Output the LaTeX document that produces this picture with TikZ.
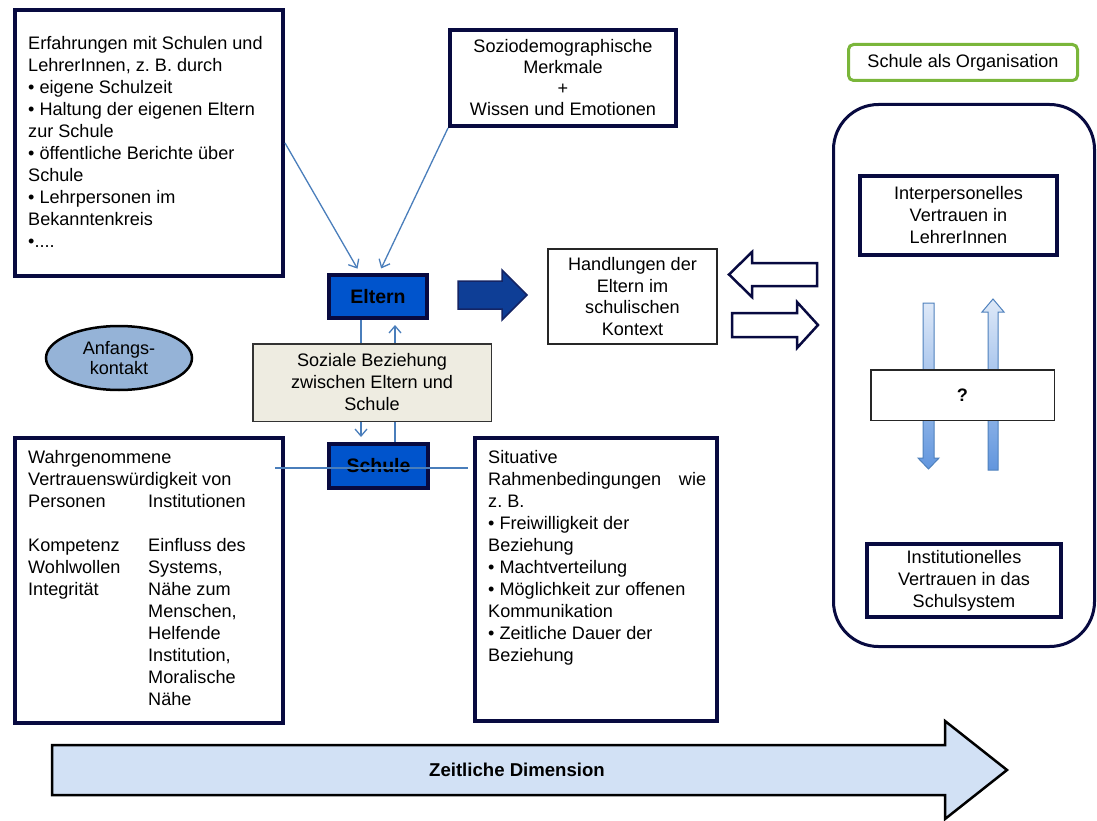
\documentclass[tikz,border=0pt]{standalone}
\usepackage{fontspec}
\setmainfont{Liberation Sans}
\frenchspacing
\usetikzlibrary{arrows.meta,shapes.geometric,calc}
\definecolor{navy}{RGB}{8,10,64}
\definecolor{connblue}{RGB}{74,126,187}
\definecolor{elternblue}{RGB}{0,84,204}
\definecolor{arrowblue}{RGB}{14,62,150}
\definecolor{arrowborder}{RGB}{20,36,100}
\definecolor{beige}{RGB}{238,236,225}
\definecolor{ellblue}{RGB}{149,179,215}
\definecolor{orggreen}{RGB}{122,182,58}
\definecolor{timeblue}{RGB}{210,225,245}
\definecolor{vtop}{RGB}{222,233,248}
\definecolor{vbot}{RGB}{98,150,222}
\definecolor{vborder}{RGB}{79,129,189}
\begin{document}
\begin{tikzpicture}[x=1pt,y=-1pt,
  txt/.style={font=\fontsize{18.1}{22}\selectfont\frenchspacing},
  darkbox/.style={draw=navy, line width=4pt, fill=white, inner sep=0pt, align=center, txt},
  thinbox/.style={draw=black!85, line width=1.6pt, fill=white, inner sep=0pt, align=center, txt},
  actorbox/.style={draw=navy, line width=4pt, fill=elternblue, inner sep=0pt, font=\fontsize{19.5}{22}\selectfont\bfseries},
  blocktxt/.style={txt, inner sep=0pt, align=flush left, anchor=base west},
  conn/.style={draw=connblue, line width=1.3pt},
  tipc/.style={-{Straight Barb[length=7pt,width=12pt]}},
  hollow/.style={draw=navy, line width=2.5pt, fill=white, line join=miter},
  vert/.style={top color=vtop, bottom color=vbot, draw=vborder, line width=1pt}
]
\useasboundingbox[fill=white] (0,0) rectangle (1097,821);

% top-left box
\node[darkbox, minimum width=268pt, minimum height=266pt] (exp) at (149,143) {};
\node[blocktxt, text width=252pt] (exptxt) at (28,50) {Erfahrungen mit Schulen und\\LehrerInnen, z. B. durch\\• eigene Schulzeit\\• Haltung der eigenen Eltern\\zur Schule\\• öffentliche Berichte über\\Schule\\• Lehrpersonen im\\Bekanntenkreis\\•....};

% socio box
\node[darkbox, minimum width=226pt, minimum height=96pt, font=\fontsize{18.1}{21}\selectfont] (socio) at (563,78) {Soziodemographische\\Merkmale\\+\\Wissen und Emotionen};

% Eltern / Schule
\node[actorbox, minimum width=98pt, minimum height=43pt] (eltern) at (378,296.5) {Eltern};
\node[actorbox, minimum width=99pt, minimum height=44pt] (schule) at (378.5,466) {Schule};

% soziale Beziehung
\node[draw=black!80, line width=1.5pt, fill=beige, minimum width=238.5pt, minimum height=77.5pt, inner sep=0pt, align=center, txt] (soz) at (372,382.5) {Soziale Beziehung\\zwischen Eltern und\\Schule};

% Handlungen
\node[thinbox, minimum width=169pt, minimum height=95pt, font=\fontsize{18.1}{21.5}\selectfont] (hand) at (632.5,296.5) {Handlungen der\\Eltern im\\schulischen\\Kontext};

% Anfangskontakt
\node[ellipse, draw=black, line width=2.5pt, fill=ellblue, minimum width=146pt, minimum height=64pt, inner sep=0pt, align=center, font=\fontsize{18.1}{20.5}\selectfont] (anf) at (119,358) {Anfangs-\\kontakt};

% right side
\node[draw=orggreen, line width=3pt, rounded corners=5pt, fill=white, minimum width=229pt, minimum height=36pt, inner sep=0pt, txt] (org) at (963,62.5) {Schule als Organisation};
\node[draw=navy, line width=3pt, rounded corners=45pt, minimum width=261pt, minimum height=542pt, inner sep=0pt] (panel) at (964,375.5) {};
\node[darkbox, minimum width=197pt, minimum height=79pt] (inter) at (958.5,215.5) {Interpersonelles\\Vertrauen in\\LehrerInnen};
\node[darkbox, minimum width=194pt, minimum height=73pt] (inst) at (964,580.5) {Institutionelles\\Vertrauen in das\\Schulsystem};

% vertical arrows
\shade[vert] (923,303) -- (934,303) -- (934,458) -- (939,458) -- (928.5,469) -- (918,458) -- (923,458) -- cycle;
\shade[vert] (988,470) -- (998,470) -- (998,312) -- (1004,312) -- (993,299) -- (982,312) -- (988,312) -- cycle;
\node[thinbox, line width=1.5pt, minimum width=183.5pt, minimum height=50.5pt, font=\fontsize{18.1}{22}\selectfont\bfseries] (q) at (962.5,395) {?};

% bottom boxes
\node[darkbox, minimum width=268pt, minimum height=285pt] (bl) at (149,580.5) {};
\node[blocktxt, text width=252pt] (bltxt) at (28,463) {Wahrgenommene\\Vertrauenswürdigkeit von\\\makebox[120pt][l]{Personen}Institutionen\\\mbox{}\\\makebox[120pt][l]{Kompetenz}Einfluss des\\\makebox[120pt][l]{Wohlwollen}Systems,\\\makebox[120pt][l]{Integrität}Nähe zum\\\hspace*{120pt}Menschen,\\\hspace*{120pt}Helfende\\\hspace*{120pt}Institution,\\\hspace*{120pt}Moralische\\\hspace*{120pt}Nähe};

\node[darkbox, minimum width=242pt, minimum height=283pt] (br) at (596,579.5) {};
\node[blocktxt, text width=218pt] (brtxt) at (488,463) {Situative\\Rahmenbedingungen\hfill wie\\z. B.\\• Freiwilligkeit der\\Beziehung\\• Machtverteilung\\• Möglichkeit zur offenen\\Kommunikation\\• Zeitliche Dauer der\\Beziehung};

% connectors
\coordinate (eL) at ($(eltern.south)+(-17,0)$);
\coordinate (eR) at ($(eltern.south)+(17,0)$);
\draw[conn, tipc, shorten >=5pt] (exp.east) -- ($(eltern.north)+(-18,0)$);
\draw[conn, tipc, shorten >=5pt] (socio.south west) -- ($(eltern.north)+(1,0)$);
\draw[conn] (eL) -- (eL |- soz.north);
\draw[conn, tipc, shorten >=5pt] (eR |- soz.north) -- (eR);
\draw[conn, tipc, shorten >=5pt] (eL |- soz.south) -- (eL |- schule.north);
\draw[conn] (eR |- schule.north) -- (eR |- soz.south);
\draw[conn] ($(bl.east |- schule.center)+(-10,2)$) -- ($(br.west |- schule.center)+(-5,2)$);

% block arrows
\draw[draw=arrowborder, fill=arrowblue, line width=1.5pt, line join=miter] (458,281) -- (502,281) -- (502,270) -- (527,295) -- (502,320) -- (502,309) -- (458,309) -- cycle;
\draw[hollow] (817,263) -- (752,263) -- (752,252) -- (729,274.5) -- (752,297) -- (752,286) -- (817,286) -- cycle;
\draw[hollow] (732,313) -- (797,313) -- (797,302) -- (818,325) -- (797,348) -- (797,337) -- (732,337) -- cycle;

% time arrow
\draw[draw=black, line width=2.5pt, fill=timeblue, line join=miter] (52,745) -- (945,745) -- (945,721) -- (1007,770) -- (945,819) -- (945,795) -- (52,795) -- cycle;
\node[font=\fontsize{18.6}{22}\selectfont\bfseries] (zeit) at (517,770) {Zeitliche Dimension};
\end{tikzpicture}
\end{document}
